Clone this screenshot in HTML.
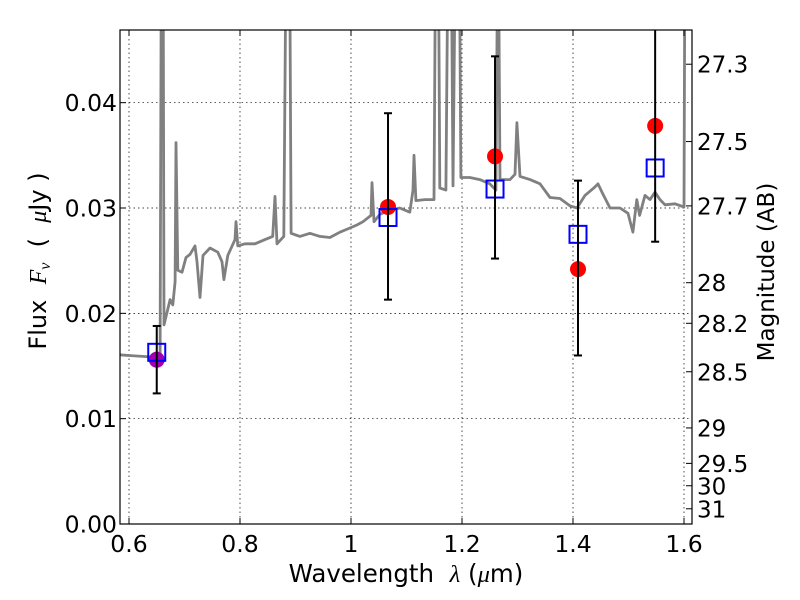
<!DOCTYPE html>
<html><head><meta charset="utf-8"><style>
html,body{margin:0;padding:0;background:#fff;width:800px;height:600px;overflow:hidden}
svg{font-family:"DejaVu Sans","Liberation Sans",sans-serif}
</style></head><body>
<svg id="chart" width="800" height="600" xmlns="http://www.w3.org/2000/svg">
<defs><clipPath id="clip"><rect x="120" y="30" width="572" height="494"/></clipPath></defs>
<g id="grid"></g>
<g id="plot" clip-path="url(#clip)"></g>
<rect x="120" y="30" width="572" height="494" fill="none" stroke="#000" stroke-width="1.2"/>
<g id="axes"></g>
<text x="406" y="582" font-size="24.5" text-anchor="middle" xml:space="preserve">Wavelength  <tspan font-family="Liberation Serif" font-style="italic">λ</tspan> (<tspan font-family="Liberation Serif" font-style="italic">μ</tspan>m)</text>
<text transform="translate(46,261) rotate(-90)" font-size="24" text-anchor="middle" xml:space="preserve">Flux  <tspan font-family="Liberation Serif" font-style="italic">F</tspan><tspan font-family="Liberation Serif" font-style="italic" font-size="16" dy="4">ν</tspan><tspan dy="-4">  (  </tspan><tspan font-family="Liberation Serif" font-style="italic">μ</tspan>Jy )</text>
<text transform="translate(774,272) rotate(-90)" font-size="23" text-anchor="middle">Magnitude (AB)</text>
</svg>
<script>
const specWl=[0.584,0.638,0.656,0.6586,0.6613,0.663,0.674,0.679,0.683,0.6847,0.688,0.6955,0.7027,0.710,0.719,0.7225,0.728,0.7333,0.746,0.760,0.7676,0.771,0.778,0.791,0.7928,0.796,0.809,0.827,0.845,0.859,0.863,0.8667,0.879,0.8838,0.889,0.892,0.908,0.926,0.944,0.962,0.980,0.998,1.011,1.0216,1.036,1.0378,1.0414,1.052,1.070,1.088,1.106,1.1117,1.1135,1.117,1.133,1.1495,1.153,1.157,1.160,1.171,1.1757,1.180,1.1838,1.189,1.1946,1.198,1.214,1.232,1.250,1.261,1.265,1.2685,1.2865,1.2955,1.299,1.3045,1.3225,1.3405,1.3586,1.3766,1.3946,1.4072,1.4216,1.4396,1.445,1.4523,1.4667,1.4847,1.499,1.508,1.515,1.520,1.5297,1.5387,1.5477,1.5568,1.5658,1.5838,1.600,1.602,1.6054,1.62];
const specFlux=[0.01605,0.01586,0.0160,0.2,0.2,0.0189,0.0213,0.0208,0.0230,0.0362,0.0241,0.0239,0.0253,0.0256,0.0264,0.0249,0.0215,0.0255,0.0262,0.0258,0.0249,0.0232,0.0255,0.0270,0.0287,0.0264,0.0266,0.0266,0.0270,0.0273,0.0311,0.0266,0.0273,0.2,0.2,0.0276,0.0273,0.0276,0.0273,0.0272,0.0277,0.0281,0.0284,0.0287,0.0293,0.0324,0.0287,0.0294,0.0298,0.0300,0.0296,0.0317,0.0350,0.0307,0.0308,0.0308,0.2,0.2,0.0319,0.0317,0.2,0.2,0.0321,0.2,0.2,0.0329,0.0329,0.0327,0.0323,0.0317,0.2,0.0327,0.0327,0.0332,0.0381,0.0330,0.0327,0.0323,0.0310,0.0309,0.0302,0.0300,0.0312,0.0320,0.0323,0.0315,0.0300,0.0300,0.0295,0.0277,0.0308,0.0293,0.0312,0.0308,0.0315,0.0308,0.0303,0.0304,0.0301,0.2,0.2,0.2];
const bandWl=[0.650,1.0667,1.2595,1.409,1.548];
const obsFlux=[0.0156,0.0301,0.0349,0.0242,0.0378];
const modelFlux=[0.0163,0.0291,0.0318,0.0275,0.0338];
const errLo=[0.0124,0.0213,0.0252,0.0160,0.0268];
const errHi=[0.0188,0.0390,0.0444,0.0326,0.0500];
const xTicks=[0.6,0.8,1.0,1.2,1.4,1.6];
const xTickLabels=["0.6","0.8","1","1.2","1.4","1.6"];
const yTicks=[0,0.01,0.02,0.03,0.04];
const yTickLabels=["0.00","0.01","0.02","0.03","0.04"];
const magTicks=[27.3,27.5,27.7,28,28.2,28.5,29,29.5,30,31];

const X0=120,X1=692,Y0=524,Y1=30,xmin=0.5838,xmax=1.6144,ymin=0,ymax=0.0469;
const xs=v=>X0+(v-xmin)/(xmax-xmin)*(X1-X0);
const ys=v=>Y0-(v-ymin)/(ymax-ymin)*(Y0-Y1);
const NS="http://www.w3.org/2000/svg";
function mk(tag,parent,attrs){const e=document.createElementNS(NS,tag);for(const k in attrs)e.setAttribute(k,attrs[k]);parent.appendChild(e);return e;}
const grid=document.getElementById('grid'),plot=document.getElementById('plot'),axes=document.getElementById('axes');

xTicks.forEach((t,i)=>{const x=xs(t);
 const g=mk('line',grid,{x1:x,x2:x,y1:Y1,y2:Y0,stroke:'#000','stroke-width':0.7,'stroke-dasharray':'1.5,3'});
 
 const a=mk('line',axes,{x1:x,x2:x,y1:Y0,y2:Y0-6,stroke:'#000'});
 const b=mk('line',axes,{x1:x,x2:x,y1:Y1,y2:Y1+6,stroke:'#000'});
 const tx=mk('text',axes,{x:x,y:Y0+28,'font-size':23.5,'text-anchor':'middle'});tx.textContent=xTickLabels[i];
 });
yTicks.forEach((t,i)=>{const y=ys(t);
 const g=mk('line',grid,{x1:X0,x2:X1,y1:y,y2:y,stroke:'#000','stroke-width':0.7,'stroke-dasharray':'1.5,3'});
 
 const a=mk('line',axes,{x1:X0,x2:X0+6,y1:y,y2:y,stroke:'#000'});
 const tx=mk('text',axes,{x:X0-3,y:y+8.5,'font-size':23.5,'text-anchor':'end'});tx.textContent=yTickLabels[i];
 });
magTicks.forEach(m=>{const f=Math.pow(10,(23.9-m)/2.5);const y=ys(f);
 const a=mk('line',axes,{x1:X1,x2:X1-6,y1:y,y2:y,stroke:'#000'});
 const tx=mk('text',axes,{x:X1+5,y:y+8.5,'font-size':23});tx.textContent=String(m);
 });

const pts=specWl.map((w,i)=>xs(w).toFixed(1)+','+ys(Math.min(specFlux[i],0.06)).toFixed(1)).join(' ');
const pl=mk('polyline',plot,{points:pts,fill:'none',stroke:'#808080','stroke-width':2.8,'stroke-linejoin':'round'});


bandWl.forEach((w,i)=>{const x=xs(w);
 const col=i===0?'#a000b0':'#ff0000';
 const c=mk('circle',plot,{cx:x,cy:ys(obsFlux[i]),r:8,fill:col});
 
 const s=mk('rect',plot,{x:x-8.5,y:ys(modelFlux[i])-8.5,width:17,height:17,fill:'none',stroke:'#0000ff','stroke-width':2});
 
 const e=mk('line',plot,{x1:x,x2:x,y1:ys(errLo[i]),y2:ys(errHi[i]),stroke:'#000','stroke-width':2});
 
 [errLo[i],errHi[i]].forEach(v=>{const cap=mk('line',plot,{x1:x-4,x2:x+4,y1:ys(v),y2:ys(v),stroke:'#000','stroke-width':2});
  });});
</script>
</body></html>
